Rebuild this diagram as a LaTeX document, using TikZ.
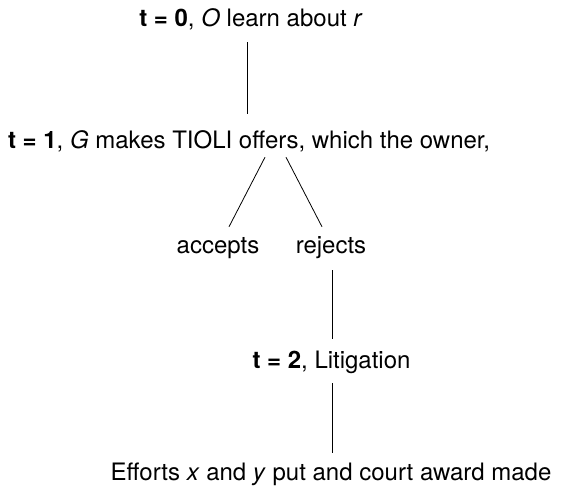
\documentclass[tikz,border=0pt]{standalone}
\usepackage{fontspec}
\setmainfont{TeX Gyre Heros}
\begin{document}
\begin{tikzpicture}[x=1pt,y=-1pt,
  lbl/.style={anchor=base,inner sep=0pt,text height=18pt,text depth=5pt,font=\fontsize{24}{28}\selectfont},
  edge/.style={draw=black,line width=0.8pt}]
\useasboundingbox (0,0) rectangle (580,486);
\node[lbl] (n0) at (251,27) {\textbf{t = 0}, \textit{O} learn about \textit{r}};
\node[lbl] (n1) at (249,149) {\textbf{t = 1}, \textit{G} makes TIOLI offers, which the owner,};
\node[lbl] (acc) at (218,253) {accepts};
\node[lbl] (rej) at (331,253) {rejects};
\node[lbl] (n2) at (331.5,368) {\textbf{t = 2}, Litigation};
\node[lbl] (n3) at (331,480) {Efforts \textit{x} and \textit{y} put and court award made};
\draw[edge] ([xshift=-3.5pt,yshift=-10pt]n0.south) -- ([xshift=-1.5pt,yshift=17pt]n1.north);
\draw[edge] ([xshift=16pt,yshift=-3pt]n1.south) -- ([xshift=11pt,yshift=8pt]acc.north);
\draw[edge] ([xshift=37pt,yshift=-3pt]n1.south) -- ([xshift=-9pt,yshift=8pt]rej.north);
\draw[edge] ([xshift=1pt,yshift=-12pt]rej.south) -- ([xshift=0.5pt,yshift=11pt]n2.north);
\draw[edge] ([xshift=0.5pt,yshift=-10pt]n2.south) -- ([xshift=1pt,yshift=9pt]n3.north);
\end{tikzpicture}
\end{document}
